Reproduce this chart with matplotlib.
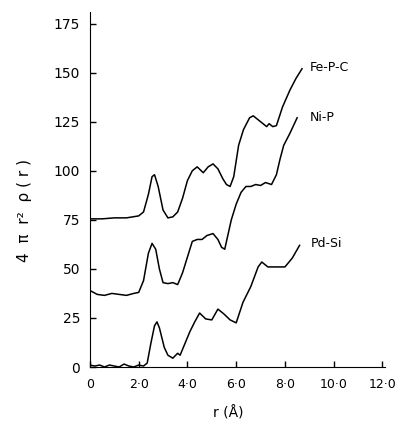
import matplotlib
matplotlib.use("Agg")
import matplotlib.pyplot as plt

# radial distribution curves (r in angstrom)
fepc_r = [0, 0.5, 1.0, 1.5, 2.0, 2.2, 2.4, 2.55, 2.65, 2.8, 3.0, 3.2, 3.4, 3.6, 3.8,
          4.0, 4.2, 4.4, 4.65, 4.85, 5.05, 5.25, 5.45, 5.6, 5.75, 5.9, 6.1, 6.3,
          6.55, 6.7, 6.9, 7.1, 7.25, 7.35, 7.5, 7.65, 7.9, 8.2, 8.45, 8.7]
fepc_g = [75.5, 75.5, 76, 76, 77, 79, 88, 97, 98, 92, 80, 76, 76.5, 79, 86,
          95, 100, 102, 99, 102, 103.5, 101, 96, 93, 92, 97, 113, 121,
          127, 128, 126, 124, 122.5, 124, 122.5, 123, 132.5, 141, 147, 152]

nip_r = [0, 0.3, 0.6, 0.9, 1.2, 1.5, 1.8, 2.0, 2.2, 2.4, 2.55, 2.7, 2.85, 3.0, 3.2,
         3.4, 3.6, 3.8, 4.0, 4.2, 4.4, 4.6, 4.8, 5.05, 5.25, 5.4, 5.53, 5.8, 6.0,
         6.2, 6.4, 6.6, 6.8, 7.0, 7.2, 7.45, 7.65, 7.8, 7.95, 8.2, 8.5]
nip_g = [39, 37, 36.5, 37.5, 37, 36.5, 37.5, 38, 44, 58, 63, 60, 50, 43, 42.5,
         43, 42, 48, 56, 64, 65, 65, 67, 68, 65, 61, 60, 75, 83,
         89, 92, 92, 93, 92.5, 94, 93, 98, 106, 113, 119, 127]

pdsi_r = [0, 0.2, 0.4, 0.6, 0.8, 1.0, 1.2, 1.4, 1.6, 1.8, 2.0, 2.2, 2.35, 2.5, 2.65,
          2.75, 2.85, 3.05, 3.2, 3.4, 3.6, 3.7, 3.9, 4.1, 4.3, 4.5, 4.75, 5.0, 5.25,
          5.5, 5.75, 6.0, 6.28, 6.6, 6.9, 7.05, 7.3, 7.7, 8.0, 8.3, 8.6]
pdsi_g = [1, 0.5, 1, 0, 1, 0.5, 0, 1.5, 0.5, 0, 1, 0.5, 2, 12, 21,
          23, 20, 10, 6, 4.5, 7, 6, 12, 18, 23, 27.5, 24.5, 24, 29.5,
          27, 24, 22.5, 33, 41, 51, 53.5, 51, 51, 51, 55.5, 62]

series_names = ["Fe-P-C", "Ni-P", "Pd-Si"]
name_pos = [(9.0, 152.5), (9.0, 127), (9.05, 63)]

x_ticks = [0, 2, 4, 6, 8, 10, 12]
x_tick_labels = ["0", "2·0", "4·0", "6·0", "8·0", "10·0", "12·0"]
y_ticks = [0, 25, 50, 75, 100, 125, 150, 175]

fig = plt.figure(figsize=(3.96, 4.30), dpi=100)
ax = fig.add_axes([0.227, 0.1465, 0.745, 0.826])

for r, g in [(fepc_r, fepc_g), (nip_r, nip_g), (pdsi_r, pdsi_g)]:
    ax.plot(r, g, color="black", lw=1.1)

for name, (tx, ty) in zip(series_names, name_pos):
    ax.text(tx, ty, name, fontsize=9, va="center", ha="left")

ax.set_xlim(0, 12.1)
ax.set_ylim(0, 181)
ax.set_xticks(x_ticks)
ax.set_xticklabels(x_tick_labels)
ax.set_yticks(y_ticks)
ax.tick_params(direction="in", length=4, width=1, labelsize=10, colors="black")
ax.tick_params(axis="y", pad=7)
ax.tick_params(axis="x", pad=8, labelsize=9)
ax.spines["top"].set_visible(False)
ax.spines["right"].set_visible(False)

ax.set_xlabel("r (Å)", fontsize=10, va="center")
ax.xaxis.set_label_coords(0.47, -0.13)
ax.set_ylabel("4  π  r²  ρ ( r )", fontsize=11, va="center")
ax.yaxis.set_label_coords(-0.22, 0.442)

fig.savefig("out.png", dpi=100)
